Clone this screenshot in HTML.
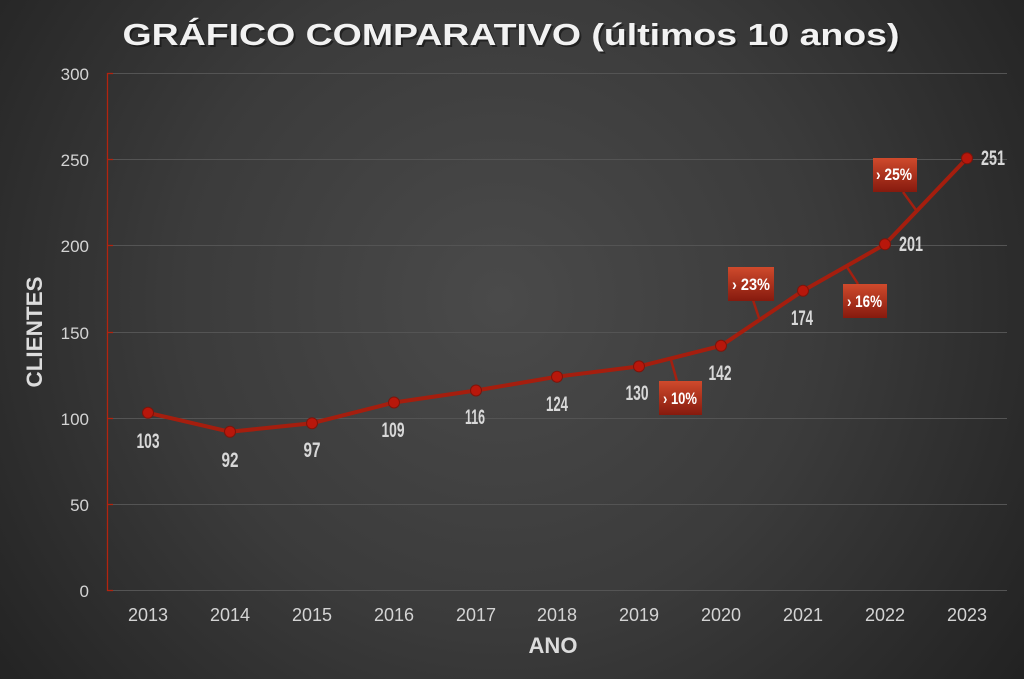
<!DOCTYPE html>
<html><head><meta charset="utf-8"><style>
html,body{margin:0;padding:0;width:1024px;height:679px;overflow:hidden;background:#2a2a2a}
svg{display:block}
</style></head><body>
<svg width="1024" height="679" viewBox="0 0 1024 679" xmlns="http://www.w3.org/2000/svg">
<defs>
<radialGradient id="bg" cx="500" cy="300" r="720" gradientUnits="userSpaceOnUse">
<stop offset="0" stop-color="#4a4a4a"/>
<stop offset="0.45" stop-color="#3b3b3b"/>
<stop offset="1" stop-color="#1c1c1c"/>
</radialGradient>
<linearGradient id="box" x1="0" y1="0" x2="0" y2="1">
<stop offset="0" stop-color="#cf4a2c"/>
<stop offset="1" stop-color="#861a0e"/>
</linearGradient>
</defs>
<rect width="1024" height="679" fill="url(#bg)"/>

<!-- title -->
<g font-family="'Liberation Sans', sans-serif" font-weight="bold" font-size="31">
<text x="513" y="47" text-anchor="middle" fill="#111" opacity="0.6" textLength="777" lengthAdjust="spacingAndGlyphs">GRÁFICO COMPARATIVO (últimos 10 anos)</text>
<text x="511" y="45" text-anchor="middle" fill="#f2f2f2" textLength="777" lengthAdjust="spacingAndGlyphs">GRÁFICO COMPARATIVO (últimos 10 anos)</text>
</g>

<!-- gridlines -->
<g stroke="#545454" stroke-width="1">
<line x1="107" y1="73.5" x2="1007" y2="73.5"/>
<line x1="107" y1="159.5" x2="1007" y2="159.5"/>
<line x1="107" y1="245.5" x2="1007" y2="245.5"/>
<line x1="107" y1="332.5" x2="1007" y2="332.5"/>
<line x1="107" y1="418.5" x2="1007" y2="418.5"/>
<line x1="107" y1="504.5" x2="1007" y2="504.5"/>
<line x1="107" y1="590.5" x2="1007" y2="590.5"/>
</g>
<!-- y axis -->
<g stroke="#b3240f" stroke-width="1.3">
<line x1="107.5" y1="73" x2="107.5" y2="591"/>
<line x1="107" y1="73.5" x2="113" y2="73.5"/>
<line x1="107" y1="159.5" x2="113" y2="159.5"/>
<line x1="107" y1="245.5" x2="113" y2="245.5"/>
<line x1="107" y1="332.5" x2="113" y2="332.5"/>
<line x1="107" y1="418.5" x2="113" y2="418.5"/>
<line x1="107" y1="504.5" x2="113" y2="504.5"/>
<line x1="107" y1="590.5" x2="113" y2="590.5"/>
</g>

<!-- y tick labels -->
<g font-family="'Liberation Sans', sans-serif" font-size="17" fill="#d4d4d4" text-anchor="end">
<text x="89" y="80">300</text>
<text x="89" y="166">250</text>
<text x="89" y="252">200</text>
<text x="89" y="339">150</text>
<text x="89" y="425">100</text>
<text x="89" y="511">50</text>
<text x="89" y="597">0</text>
</g>

<!-- x tick labels -->
<g font-family="'Liberation Sans', sans-serif" font-size="18" fill="#d4d4d4" text-anchor="middle">
<text x="148" y="621">2013</text>
<text x="230" y="621">2014</text>
<text x="312" y="621">2015</text>
<text x="394" y="621">2016</text>
<text x="476" y="621">2017</text>
<text x="557" y="621">2018</text>
<text x="639" y="621">2019</text>
<text x="721" y="621">2020</text>
<text x="803" y="621">2021</text>
<text x="885" y="621">2022</text>
<text x="967" y="621">2023</text>
</g>

<!-- axis titles -->
<g font-family="'Liberation Sans', sans-serif" font-weight="bold" font-size="22" fill="#dcdcdc">
<text x="553" y="653" text-anchor="middle">ANO</text>
<text transform="translate(42,332) rotate(-90)" text-anchor="middle" textLength="111" lengthAdjust="spacingAndGlyphs">CLIENTES</text>
</g>

<!-- leader lines -->
<g stroke="#a32010" stroke-width="2.5">
<line x1="677" y1="381" x2="671" y2="360"/>
<line x1="753" y1="300" x2="759" y2="318"/>
<line x1="858" y1="284" x2="847" y2="267"/>
<line x1="903" y1="192" x2="916" y2="210"/>
</g>

<!-- series line -->
<polyline fill="none" stroke="#a51e0e" stroke-width="4" stroke-linejoin="round"
points="148,412.8 230,431.8 312,423.2 394,402.5 476,390.5 557,376.7 639,366.4 721,345.8 803,290.7 885,244.3 967,158.3"/>
<g fill="#b8170b" stroke="#7e140a" stroke-width="1">
<circle cx="148" cy="412.8" r="5.5"/>
<circle cx="230" cy="431.8" r="5.5"/>
<circle cx="312" cy="423.2" r="5.5"/>
<circle cx="394" cy="402.5" r="5.5"/>
<circle cx="476" cy="390.5" r="5.5"/>
<circle cx="557" cy="376.7" r="5.5"/>
<circle cx="639" cy="366.4" r="5.5"/>
<circle cx="721" cy="345.8" r="5.5"/>
<circle cx="803" cy="290.7" r="5.5"/>
<circle cx="885" cy="244.3" r="5.5"/>
<circle cx="967" cy="158.3" r="5.5"/>
</g>

<!-- data labels -->
<g font-family="'Liberation Sans Narrow', 'Liberation Sans', sans-serif" font-weight="bold" font-size="21" fill="#d8d8d8" text-anchor="middle">
<text x="148" y="448" textLength="23" lengthAdjust="spacingAndGlyphs">103</text>
<text x="230" y="467" textLength="17" lengthAdjust="spacingAndGlyphs">92</text>
<text x="312" y="457" textLength="17" lengthAdjust="spacingAndGlyphs">97</text>
<text x="393" y="437" textLength="23" lengthAdjust="spacingAndGlyphs">109</text>
<text x="475" y="424" textLength="20" lengthAdjust="spacingAndGlyphs">116</text>
<text x="557" y="411" textLength="22" lengthAdjust="spacingAndGlyphs">124</text>
<text x="637" y="400" textLength="23" lengthAdjust="spacingAndGlyphs">130</text>
<text x="720" y="380" textLength="23" lengthAdjust="spacingAndGlyphs">142</text>
<text x="802" y="325" textLength="22" lengthAdjust="spacingAndGlyphs">174</text>
<text x="911" y="251" textLength="24" lengthAdjust="spacingAndGlyphs">201</text>
<text x="993" y="165" textLength="24" lengthAdjust="spacingAndGlyphs">251</text>
</g>

<!-- callout boxes -->
<g>
<rect x="659" y="381" width="43" height="34" fill="url(#box)"/>
<rect x="728" y="267" width="46" height="34" fill="url(#box)"/>
<rect x="843" y="284" width="44" height="34" fill="url(#box)"/>
<rect x="873" y="158" width="44" height="34" fill="url(#box)"/>
</g>
<g font-family="'Liberation Sans Narrow', 'Liberation Sans', sans-serif" font-weight="bold" font-size="17" fill="#ffffff">
<text x="663" y="404" textLength="34" lengthAdjust="spacingAndGlyphs">› 10%</text>
<text x="732" y="290" textLength="38" lengthAdjust="spacingAndGlyphs">› 23%</text>
<text x="847" y="307" textLength="35" lengthAdjust="spacingAndGlyphs">› 16%</text>
<text x="876" y="180" textLength="36" lengthAdjust="spacingAndGlyphs">› 25%</text>
</g>
</svg>
</body></html>
